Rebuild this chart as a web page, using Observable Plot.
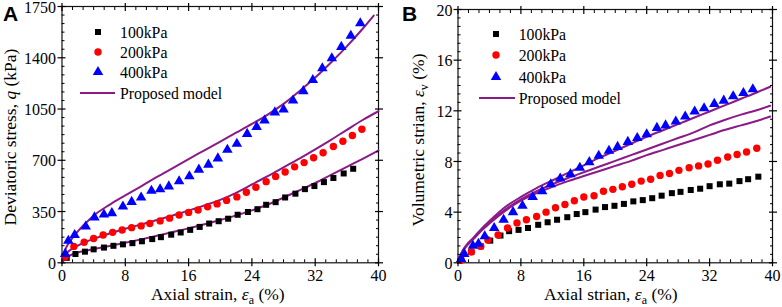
<!DOCTYPE html>
<html><head><meta charset="utf-8">
<script src="https://cdn.jsdelivr.net/npm/d3@7"></script>
<script src="https://cdn.jsdelivr.net/npm/@observablehq/plot@0.6"></script>
<style>
body{margin:0;background:#fff;}
#wrap{display:flex;width:782px;height:307px;overflow:hidden;}
</style></head><body><div id="wrap"></div>
<script>
// ---------- labels & ticks ----------
const seriesNames = ["100kPa", "200kPa", "400kPa"];
const modelName = "Proposed model";
const xTicks = [0, 8, 16, 24, 32, 40];
const yTicksA = [0, 350, 700, 1050, 1400, 1750];
const yTicksB = [0, 4, 8, 12, 16, 20];

// ---------- Panel A: deviatoric stress (kPa) ----------
const a100x = [0.6,1.7,2.9,4.0,5.3,6.5,7.7,8.9,10.1,11.4,12.5,13.8,15.0,16.2,17.4,18.6,19.8,21.0,22.2,23.5,24.7,25.8,27.0,28.2,29.5,30.7,31.9,33.1,34.3,35.6,36.8];
const a100y = [34,60,76,92,104,116,126,134,147,162,175,192,207,225,245,268,284,301,328,347,366,396,414,446,472,503,524,551,579,610,642];
const a200x = [0.4,1.5,2.8,4.0,5.2,6.4,7.6,8.8,10.0,11.1,12.4,13.6,14.8,16.0,17.2,18.4,19.6,20.8,22.1,23.3,24.5,25.8,27.0,28.2,29.4,30.6,31.8,33.0,34.3,35.5,36.7,37.9];
const a200y = [40,112,140,166,190,208,224,240,252,268,286,305,326,344,361,382,402,426,450,482,516,554,590,620,655,684,717,751,794,830,869,912];
const a400x = [0.4,0.8,1.6,3.0,4.1,5.3,6.3,7.7,8.8,10.0,11.3,12.4,13.5,14.8,16.1,17.3,18.5,19.7,20.9,22.1,23.4,24.6,25.6,26.9,28.0,29.2,30.5,31.7,32.9,34.1,35.3,36.5,37.7];
const a400y = [61,150,190,248,310,330,339,384,416,446,492,502,522,557,591,636,670,713,772,813,880,928,972,1027,1047,1108,1172,1248,1328,1397,1474,1550,1636];

const aModelX = [0,0.5,1,2,3,4,6,8,10,12,14,16,18,20,22,24,26,28,30,32,34,36,38,40];
const aModel100 = [0,35,50,70,83,94,115,137,160,185,210,235,263,292,324,358,398,445,495,545,600,655,710,767];
const aModel200 = [0,60,85,118,143,163,200,233,262,292,324,356,392,430,478,535,592,652,712,775,840,908,975,1035];
const aModel400x = [0,0.5,1,2,3,4,6,8,10,12,14,16,18,20,22,24,26,28,30,32,34,36,38,39.4];
const aModel400 = [0,100,145,215,272,322,396,460,522,586,647,708,768,828,888,948,1012,1085,1172,1265,1368,1478,1598,1688];

// ---------- Panel B: volumetric strain (%) ----------
const b100x = [0.4,1.7,2.9,4.1,5.4,6.5,7.7,8.9,10.2,11.4,12.6,13.9,15.1,16.2,17.5,18.7,19.9,21.1,22.3,23.5,24.7,25.9,27.2,28.3,29.6,30.8,32.0,33.3,34.5,35.8,36.9,38.2];
const b100y = [0.25,0.85,1.3,1.75,2.15,2.5,2.6,2.75,3.0,3.2,3.4,3.6,3.85,4.0,4.2,4.4,4.5,4.65,4.85,4.95,5.1,5.3,5.5,5.6,5.75,5.85,6.05,6.2,6.25,6.45,6.6,6.8];
const b200x = [0.4,1.7,2.9,3.8,5.1,6.3,7.5,8.7,10.0,11.2,12.4,13.6,14.8,16.0,17.3,18.5,19.7,20.9,22.1,23.3,24.5,25.7,26.9,28.1,29.4,30.6,31.8,33.0,34.3,35.5,36.7,38.0];
const b200y = [0.2,0.85,1.3,1.8,2.2,2.75,3.15,3.4,3.65,4.0,4.35,4.6,4.9,5.2,5.3,5.65,5.8,6.0,6.2,6.45,6.6,6.9,7.05,7.3,7.5,7.65,7.8,8.1,8.35,8.55,8.75,9.05];
const b400x = [0.4,0.8,1.9,2.6,3.4,4.6,5.8,7.0,8.2,9.5,10.7,11.8,13.0,14.3,15.5,16.7,17.9,19.2,20.3,21.6,22.8,24.0,25.3,26.4,27.7,28.9,30.1,31.3,32.6,33.8,35.0,36.3,37.5];
const b400y = [0.3,0.7,1.35,1.5,2.1,2.75,3.4,4.0,4.5,5.2,5.65,6.2,6.65,7.0,7.5,7.95,8.45,8.85,9.15,9.55,9.85,10.15,10.65,10.85,11.15,11.55,11.95,12.2,12.55,12.8,13.15,13.4,13.7];

const bModelX = [0,0.5,1,2,3,4,6,8,10,12,14,16,18,20,22,24,26,28,30,32,34,36,38,39.7];
const bModelTop = [0,0.85,1.35,2.0,2.7,3.3,4.4,5.2,5.9,6.5,7.1,7.7,8.3,8.85,9.4,9.95,10.45,10.95,11.45,11.95,12.45,12.95,13.45,13.9];
const bModelMid = [0,0.8,1.3,1.95,2.6,3.2,4.2,5.0,5.65,6.2,6.7,7.15,7.6,8.05,8.5,8.95,9.4,9.85,10.3,10.85,11.3,11.7,12.05,12.4];
const bModelLow = [0,0.8,1.25,1.9,2.55,3.1,4.1,4.9,5.5,6.0,6.45,6.85,7.25,7.65,8.05,8.5,8.9,9.3,9.7,10.1,10.5,10.85,11.2,11.55];

// ---------- styling ----------
const PURPLE = "#8B1A89";
const SERIF = "'Liberation Serif','Times New Roman',serif";
const styles = [
  {symbol: "square", fill: "#000000", r: 3.4},
  {symbol: "circle", fill: "#FF0000", r: 3.7},
  {symbol: "triangle", fill: "#0000FF", r: 3.9}
];
const zip = (xs, ys) => xs.map((x, i) => ({x, y: ys[i]}));
const minorOf = (major) => {
  const out = [];
  for (let i = 0; i < major.length - 1; i++) {
    const step = (major[i + 1] - major[i]) / 6;
    for (let k = 1; k < 6; k++) out.push(major[i] + k * step);
  }
  return out;
};

function makePanel(cfg) {
  const fmt = d3.format("d");
  const xMinor = minorOf(xTicks), yMinor = minorOf(cfg.yTicks);
  const marks = [
    Plot.frame({stroke: "#111", strokeWidth: 1.2}),
    ...cfg.models.map(m => Plot.line(zip(m.x, m.y), {x: "x", y: "y", stroke: PURPLE, strokeWidth: 2, curve: "monotone-x"})),
    ...cfg.series.map((s, i) => Plot.dot(zip(s.x, s.y), {x: "x", y: "y", symbol: styles[i].symbol, fill: styles[i].fill, stroke: "none", r: styles[i].r})),
    // tick labels
    Plot.axisX({ticks: xTicks, anchor: "bottom", tickSize: 0, tickPadding: 6.5, tickFormat: fmt, label: null}),
    Plot.axisY({ticks: cfg.yTicks, anchor: "left", tickSize: 0, tickPadding: cfg.yPad, dy: 1, tickFormat: fmt, label: null}),
    // major ticks crossing the frame
    Plot.axisX({ticks: xTicks, anchor: "bottom", tickSize: 8, dy: -4, fill: "none", label: null, strokeWidth: 1.2}),
    Plot.axisX({ticks: xTicks, anchor: "top", tickSize: 8, dy: 4, fill: "none", label: null, strokeWidth: 1.2}),
    Plot.axisY({ticks: cfg.yTicks, anchor: "left", tickSize: 8, dx: 4, fill: "none", label: null, strokeWidth: 1.2}),
    Plot.axisY({ticks: cfg.yTicks, anchor: "right", tickSize: 8, dx: -4, fill: "none", label: null, strokeWidth: 1.2}),
    // minor inward ticks
    Plot.axisX({ticks: xMinor, anchor: "bottom", tickSize: 3, dy: -3, fill: "none", label: null}),
    Plot.axisX({ticks: xMinor, anchor: "top", tickSize: 3, dy: 3, fill: "none", label: null}),
    Plot.axisY({ticks: yMinor, anchor: "left", tickSize: 3, dx: 3, fill: "none", label: null}),
    Plot.axisY({ticks: yMinor, anchor: "right", tickSize: 3, dx: -3, fill: "none", label: null})
  ];
  const svg = Plot.plot({
    width: cfg.width, height: 307,
    marginLeft: cfg.ml, marginRight: cfg.mr, marginTop: cfg.mt, marginBottom: 44.7,
    x: {domain: [0, 40]},
    y: {domain: [cfg.yTicks[0], cfg.yTicks[cfg.yTicks.length - 1]]},
    style: {fontFamily: SERIF, fontSize: "16px", color: "#000", background: "#fff", overflow: "visible"},
    marks
  });
  const s = d3.select(svg);
  const left = cfg.ml, right = cfg.width - cfg.mr;
  // x title
  const xt = s.append("text").attr("x", (left + right) / 2 + cfg.xtShift).attr("y", 299.5)
    .attr("text-anchor", "middle").attr("font-family", SERIF).attr("font-size", 17.5).attr("fill", "#000");
  xt.append("tspan").text(cfg.xTitle + ", ");
  xt.append("tspan").attr("font-style", "italic").text("ε");
  xt.append("tspan").attr("font-size", 12).attr("dy", 4).text("a");
  xt.append("tspan").attr("dy", -4).text(" (%)");
  // y title
  const yt = s.append("text").attr("transform", `translate(${cfg.ytX},${cfg.ytY}) rotate(-90)`)
    .attr("text-anchor", "middle").attr("font-family", SERIF).attr("font-size", 17.5).attr("fill", "#000");
  cfg.yTitle(yt);
  // panel letter
  s.append("text").attr("x", cfg.letterX).attr("y", 21).attr("text-anchor", "start").attr("font-family", "'Liberation Sans',Arial,sans-serif")
    .attr("font-weight", "bold").attr("font-size", 21).attr("fill", "#000").text(cfg.letter);
  // legend
  const lg = s.append("g").attr("font-family", SERIF).attr("font-size", 15.8).attr("text-anchor", "start");
  seriesNames.forEach((name, i) => {
    const st = styles[i];
    const sym = {square: d3.symbolSquare, circle: d3.symbolCircle, triangle: d3.symbolTriangle}[st.symbol];
    lg.append("path").attr("d", d3.symbol(sym, Math.PI * st.r * st.r)())
      .attr("transform", `translate(${cfg.lg.mx},${cfg.lg.rows[i]})`).attr("fill", st.fill);
    lg.append("text").attr("x", cfg.lg.tx).attr("y", cfg.lg.rows[i]).attr("dy", "0.35em").attr("fill", "#000").text(name);
  });
  lg.append("line").attr("x1", cfg.lg.l1).attr("x2", cfg.lg.l2).attr("y1", cfg.lg.rows[3]).attr("y2", cfg.lg.rows[3])
    .attr("stroke", PURPLE).attr("stroke-width", 2);
  lg.append("text").attr("x", cfg.lg.tx).attr("y", cfg.lg.rows[3]).attr("dy", "0.35em").attr("fill", "#000").text(modelName);
  return svg;
}

const wrap = document.getElementById("wrap");
wrap.appendChild(makePanel({
  width: 391, ml: 61.5, mr: 13, mt: 6, yTicks: yTicksA, yPad: 6,
  series: [{x: a100x, y: a100y}, {x: a200x, y: a200y}, {x: a400x, y: a400y}],
  models: [{x: aModelX, y: aModel100}, {x: aModelX, y: aModel200}, {x: aModel400x, y: aModel400}],
  xTitle: "Axial strain", xtShift: -2,
  ytX: 16, ytY: 137,
  yTitle: t => { t.append("tspan").text("Deviatoric stress, "); t.append("tspan").attr("font-style", "italic").text("q"); t.append("tspan").text(" (kPa)"); },
  letter: "A", letterX: 3,
  lg: {mx: 98, tx: 120, l1: 80, l2: 115, rows: [32, 52, 72, 93]}
}));
wrap.appendChild(makePanel({
  width: 391, ml: 66.5, mr: 10, mt: 9, yTicks: yTicksB, yPad: 5.5,
  series: [{x: b100x, y: b100y}, {x: b200x, y: b200y}, {x: b400x, y: b400y}],
  models: [{x: bModelX, y: bModelTop}, {x: bModelX, y: bModelMid}, {x: bModelX, y: bModelLow}],
  xTitle: "Axial strian", xtShift: -4,
  ytX: 33, ytY: 140,
  yTitle: t => { t.append("tspan").text("Volumetric strian, "); t.append("tspan").attr("font-style", "italic").text("ε"); t.append("tspan").attr("font-size", 12).attr("dy", 4).text("v"); t.append("tspan").attr("dy", -4).text(" (%)"); },
  letter: "B", letterX: 11,
  lg: {mx: 105, tx: 127.7, l1: 88, l2: 124, rows: [34, 55, 77, 98]}
}));
</script></body></html>
